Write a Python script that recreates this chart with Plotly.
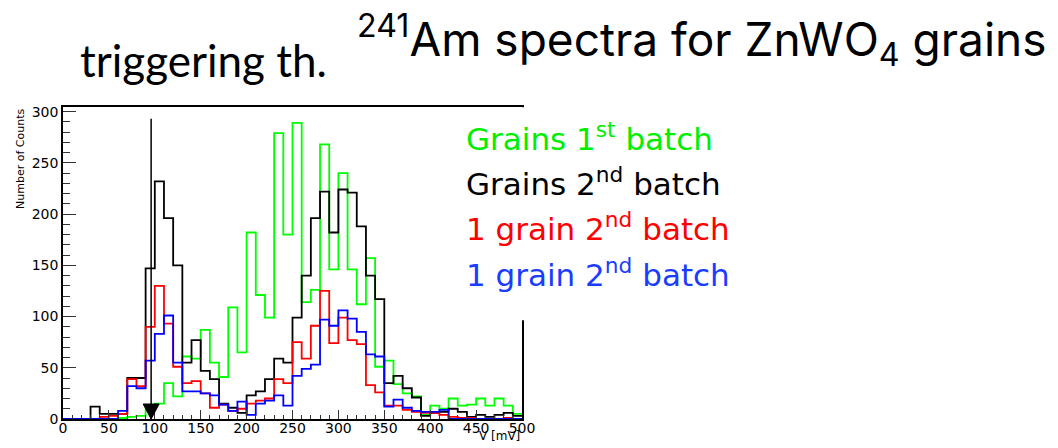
import plotly.graph_objects as go

# ---------------- data ----------------
bin_edges = list(range(0, 510, 10))  # 0 .. 500 mV, 10 mV bins

green_counts = [0, 0, 0, 0, 0, 0, 1, 2, 3, 10,
                15, 35, 22, 61, 59, 87, 55, 41, 109, 65,
                182, 121, 99, 279, 180, 289, 114, 126, 268, 146,
                240, 146, 112, 157, 51, 57, 34, 25, 22, 4,
                13, 10, 20, 13, 14, 20, 13, 20, 13, 5]
black_counts = [0, 0, 0, 12, 5, 5, 5, 40, 40, 147,
                232, 196, 150, 55, 77, 47, 39, 15, 11, 6,
                23, 27, 39, 59, 55, 99, 140, 196, 222, 182,
                224, 221, 188, 140, 117, 35, 42, 30, 21, 3,
                6, 7, 10, 7, 2, 4, 2, 4, 6, 3]
red_counts = [0, 0, 0, 0, 2, 3, 5, 39, 32, 90,
              130, 93, 51, 35, 37, 25, 11, 14, 8, 10,
              15, 18, 20, 39, 35, 75, 59, 91, 125, 74,
              99, 77, 73, 33, 26, 13, 13, 9, 7, 6,
              6, 4, 2, 1, 1, 0, 0, 0, 1, 0]
blue_counts = [0, 0, 0, 0, 0, 0, 8, 32, 30, 57,
               83, 101, 55, 27, 27, 25, 23, 14, 8, 17,
               4, 15, 18, 23, 13, 42, 49, 53, 97, 91,
               106, 98, 85, 63, 61, 12, 19, 11, 8, 7,
               7, 9, 0, 0, 0, 0, 0, 0, 0, 0]

series_names = ["Grains 1<sup>st</sup> batch", "Grains 2<sup>nd</sup> batch",
                "1 grain 2<sup>nd</sup> batch", "1 grain 2<sup>nd</sup> batch"]
series_counts = [green_counts, black_counts, red_counts, blue_counts]
line_colors = ["#00ff00", "#000000", "#ff0000", "#0000ff"]
text_colors = ["#00ee00", "#000000", "#ff0000", "#1a3cff"]

threshold_mV = 96
threshold_top = 293

x_ticks = list(range(0, 550, 50))
y_ticks = list(range(0, 350, 50))

# ---------------- figure ----------------
W, H = 1058, 448
L, R, T, B = 63, 536, 107, 26.3
pw = W - L - R
ph = H - T - B

def px_x(px):
    return (px - L) / pw

def px_y(py):
    return (H - B - py) / ph

fig = go.Figure()

for counts, col in zip(series_counts, line_colors):
    fig.add_trace(go.Scatter(
        x=bin_edges,
        y=counts + [counts[-1]],
        mode="lines",
        line=dict(color=col, width=1.8, shape="hv"),
        showlegend=False,
        hoverinfo="skip",
    ))

# threshold line + arrow head
fig.add_shape(type="line", xref="x", yref="y",
              x0=threshold_mV, x1=threshold_mV, y0=0, y1=threshold_top,
              line=dict(color="black", width=1.5))
fig.add_shape(type="path", xref="x", yref="y",
              xsizemode="pixel", ysizemode="pixel",
              xanchor=threshold_mV, yanchor=0,
              path="M -8 15 L 8 15 L 0 0 Z",
              fillcolor="black", line=dict(color="black", width=1))

# white legend panel covering the top-right of the frame
fig.add_shape(type="rect", xref="paper", yref="paper", layer="above",
              x0=px_x(441), x1=px_x(1058), y0=px_y(322), y1=px_y(107.2),
              fillcolor="white", line=dict(width=0))

legend_y = [137, 183, 228, 274]
for name, col, ly in zip(series_names, text_colors, legend_y):
    fig.add_annotation(text=name, xref="paper", yref="paper",
                       x=px_x(464), y=px_y(ly), xanchor="left", yanchor="middle",
                       showarrow=False,
                       font=dict(family="DejaVu Sans", size=31, color=col))

# titles
fig.add_annotation(text="<sup>241</sup>Am spectra for ZnWO<sub>4</sub> grains",
                   xref="paper", yref="paper", x=px_x(355), y=px_y(39),
                   xanchor="left", yanchor="middle", showarrow=False,
                   font=dict(family="Inter", size=46, color="black"))
fig.add_annotation(text="triggering th.",
                   xref="paper", yref="paper", x=px_x(78), y=px_y(60),
                   xanchor="left", yanchor="middle", showarrow=False,
                   font=dict(family="Lato", size=44, color="black"))

# axis titles
fig.add_annotation(text="Number of Counts", xref="paper", yref="paper",
                   x=px_x(20), y=1.0, xanchor="center", yanchor="top",
                   textangle=-90, showarrow=False,
                   font=dict(family="DejaVu Sans", size=11, color="black"))
fig.add_annotation(text="V [mV]", xref="paper", yref="paper",
                   x=1.0, y=px_y(448), xanchor="right", yanchor="bottom",
                   showarrow=False,
                   font=dict(family="DejaVu Sans", size=12, color="black"))

axis_font = dict(family="DejaVu Sans", size=14, color="black")
fig.update_xaxes(range=[0, 500], tickvals=x_ticks, ticks="inside", ticklen=9,
                 tickcolor="#333", tickwidth=1, showline=True, linecolor="black",
                 linewidth=1.5, mirror=True, showgrid=False, zeroline=False,
                 tickfont=axis_font, ticklabelstandoff=-5,
                 minor=dict(dtick=10, ticks="inside", ticklen=4.5, tickcolor="#333",
                            showgrid=False))
fig.update_yaxes(range=[0, 304.5], tickvals=y_ticks, ticks="inside", ticklen=13,
                 tickcolor="#333", tickwidth=1, showline=True, linecolor="black",
                 linewidth=1.5, mirror=True, showgrid=False, zeroline=False,
                 tickfont=axis_font,
                 minor=dict(dtick=10, ticks="inside", ticklen=7, tickcolor="#333",
                            showgrid=False))

fig.update_layout(width=W, height=H, margin=dict(l=L, r=R, t=T, b=B),
                  paper_bgcolor="white", plot_bgcolor="white", showlegend=False)

fig.write_html("out.html")
